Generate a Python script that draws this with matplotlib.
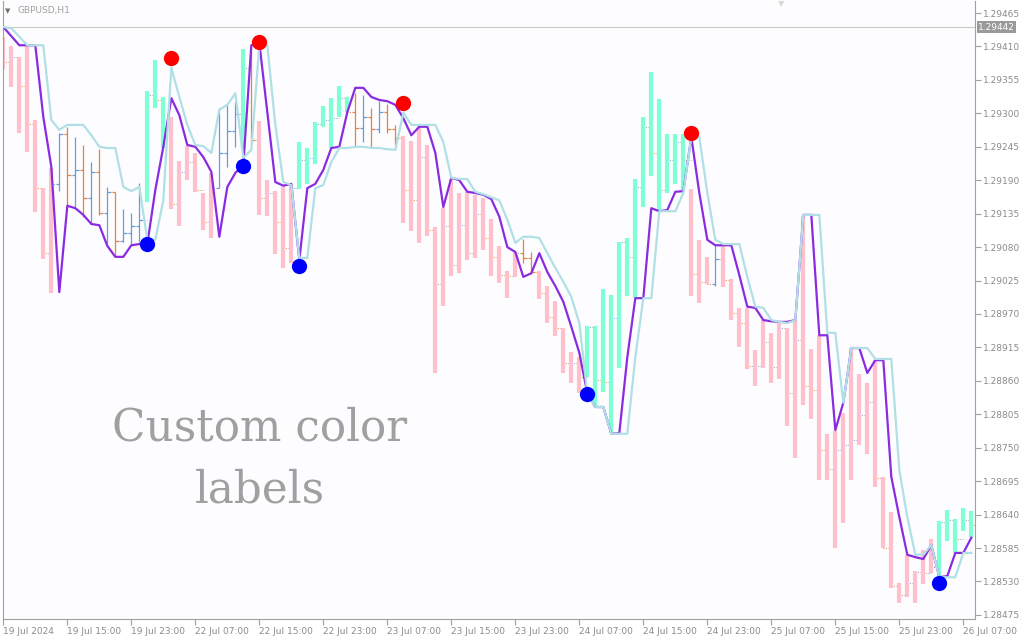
import numpy as np
import matplotlib.pyplot as plt

# GBPUSD H1 bars, 19 Jul 07:00 .. 26 Jul 08:00 (122 bars)
highs = [1.29426, 1.29411, 1.29393, 1.29412, 1.29289, 1.29177, 1.29210, 1.29268, 1.29278, 1.29261,
         1.29248, 1.29220, 1.29241, 1.29179, 1.29171, 1.29143, 1.29136, 1.29185, 1.29337, 1.29388,
         1.29327, 1.29294, 1.29222, 1.29246, 1.29235, 1.29169, 1.29202, 1.29309, 1.29314, 1.29319,
         1.29406, 1.29409, 1.29287, 1.29190, 1.29172, 1.29179, 1.29184, 1.29253, 1.29243, 1.29286,
         1.29312, 1.29325, 1.29345, 1.29327, 1.29333, 1.29330, 1.29309, 1.29320, 1.29315, 1.29281,
         1.29263, 1.29254, 1.29281, 1.29248, 1.29113, 1.29144, 1.29192, 1.29169, 1.29171, 1.29166,
         1.29161, 1.29126, 1.29082, 1.29041, 1.29072, 1.29093, 1.29072, 1.29041, 1.29016, 1.28991,
         1.28947, 1.28908, 1.28899, 1.28950, 1.28950, 1.29011, 1.29001, 1.29088, 1.29095, 1.29192,
         1.29294, 1.29368, 1.29324, 1.29266, 1.29266, 1.29266, 1.29176, 1.29092, 1.29064, 1.29083,
         1.29083, 1.29028, 1.28980, 1.28980, 1.28911, 1.28960, 1.28939, 1.28955, 1.28947, 1.28960,
         1.29131, 1.28912, 1.28935, 1.28773, 1.28778, 1.28807, 1.28914, 1.28871, 1.28857, 1.28894,
         1.28702, 1.28644, 1.28528, 1.28574, 1.28547, 1.28582, 1.28600, 1.28630, 1.28648, 1.28633,
         1.28651, 1.28646]
lows = [1.29373, 1.29343, 1.29268, 1.29236, 1.29138, 1.29060, 1.29005, 1.29172, 1.29149, 1.29146,
        1.29130, 1.29120, 1.29133, 1.29087, 1.29064, 1.29088, 1.29085, 1.29088, 1.29154, 1.29309,
        1.29243, 1.29143, 1.29115, 1.29190, 1.29171, 1.29108, 1.29095, 1.29177, 1.29212, 1.29245,
        1.29243, 1.29253, 1.29133, 1.29131, 1.29069, 1.29046, 1.29054, 1.29176, 1.29184, 1.29217,
        1.29278, 1.29243, 1.29294, 1.29302, 1.29245, 1.29253, 1.29245, 1.29268, 1.29268, 1.29248,
        1.29120, 1.29107, 1.29087, 1.29098, 1.28873, 1.28983, 1.29032, 1.29037, 1.29059, 1.29062,
        1.29075, 1.29032, 1.29021, 1.28996, 1.29031, 1.29054, 1.29037, 1.28995, 1.28955, 1.28934,
        1.28873, 1.28857, 1.28840, 1.28866, 1.28817, 1.28842, 1.28774, 1.28881, 1.29000, 1.28996,
        1.29146, 1.29197, 1.29139, 1.29169, 1.29184, 1.29174, 1.29000, 1.28988, 1.29019, 1.29016,
        1.29014, 1.28960, 1.28916, 1.28880, 1.28852, 1.28881, 1.28857, 1.28863, 1.28786, 1.28733,
        1.28820, 1.28797, 1.28697, 1.28697, 1.28585, 1.28626, 1.28697, 1.28755, 1.28740, 1.28685,
        1.28585, 1.28519, 1.28495, 1.28505, 1.28495, 1.28526, 1.28544, 1.28539, 1.28597, 1.28577,
        1.28613, 1.28603]
opens = [1.29421, 1.29384, 1.29393, 1.29345, 1.29282, 1.29177, 1.29070, 1.29184, 1.29266, 1.29199,
         1.29207, 1.29161, 1.29204, 1.29136, 1.29171, 1.29090, 1.29103, 1.29115, 1.29125, 1.29330,
         1.29322, 1.29279, 1.29151, 1.29204, 1.29220, 1.29174, 1.29121, 1.29177, 1.29235, 1.29271,
         1.29299, 1.29375, 1.29256, 1.29161, 1.29169, 1.29121, 1.29079, 1.29177, 1.29223, 1.29227,
         1.29282, 1.29289, 1.29292, 1.29325, 1.29302, 1.29276, 1.29294, 1.29274, 1.29302, 1.29274,
         1.29259, 1.29174, 1.29157, 1.29228, 1.29108, 1.29019, 1.29115, 1.29051, 1.29116, 1.29070,
         1.29134, 1.29095, 1.29064, 1.29034, 1.29032, 1.29070, 1.29062, 1.29039, 1.29005, 1.28965,
         1.28947, 1.28889, 1.28889, 1.28866, 1.28949, 1.28861, 1.28858, 1.28963, 1.29088, 1.29064,
         1.29179, 1.29278, 1.29235, 1.29174, 1.29223, 1.29253, 1.29223, 1.29036, 1.29023, 1.29019,
         1.29060, 1.29026, 1.28972, 1.28955, 1.28884, 1.28884, 1.28924, 1.28883, 1.28947, 1.28840,
         1.28927, 1.28852, 1.28845, 1.28746, 1.28715, 1.28746, 1.28755, 1.28763, 1.28804, 1.28825,
         1.28700, 1.28585, 1.28523, 1.28508, 1.28528, 1.28546, 1.28544, 1.28554, 1.28628, 1.28631,
         1.28600, 1.28631]
closes = [1.29384, 1.29393, 1.29345, 1.29282, 1.29177, 1.29070, 1.29184, 1.29266, 1.29199, 1.29207,
          1.29161, 1.29204, 1.29136, 1.29171, 1.29090, 1.29103, 1.29115, 1.29125, 1.29330, 1.29322,
          1.29279, 1.29151, 1.29204, 1.29220, 1.29174, 1.29121, 1.29177, 1.29235, 1.29271, 1.29299,
          1.29375, 1.29256, 1.29161, 1.29169, 1.29121, 1.29079, 1.29177, 1.29223, 1.29227, 1.29282,
          1.29289, 1.29292, 1.29325, 1.29302, 1.29276, 1.29294, 1.29274, 1.29302, 1.29274, 1.29259,
          1.29174, 1.29157, 1.29228, 1.29108, 1.29019, 1.29115, 1.29051, 1.29116, 1.29070, 1.29134,
          1.29095, 1.29064, 1.29034, 1.29032, 1.29070, 1.29062, 1.29039, 1.29005, 1.28965, 1.28947,
          1.28889, 1.28889, 1.28866, 1.28949, 1.28861, 1.28858, 1.28963, 1.29088, 1.29064, 1.29179,
          1.29278, 1.29235, 1.29174, 1.29223, 1.29253, 1.29223, 1.29036, 1.29023, 1.29019, 1.29060,
          1.29026, 1.28972, 1.28955, 1.28884, 1.28884, 1.28924, 1.28883, 1.28947, 1.28840, 1.28927,
          1.28852, 1.28845, 1.28746, 1.28715, 1.28746, 1.28755, 1.28763, 1.28804, 1.28825, 1.28700,
          1.28585, 1.28523, 1.28508, 1.28528, 1.28546, 1.28544, 1.28554, 1.28628, 1.28631, 1.28600,
          1.28631, 1.28623]
# P = bearish highlight, A = bullish highlight, U / D = plain up / down bar
bar_state = list("PPPPPPP" "UDUDUDUDUUU" "AAA" "PPPPPP" "UUU" "A" "D" "PPPPP" "AAAAAAA"
                 "DUDUDD" "PPPPPPPPPPPPPPP" "DD" "PPPPPP" "AAAAAAAAAAAAA" "PPP" "U"
                 "PPPPPPPPPPPPPPPPPPPPPPPPPPP" "AAAAA")

fast_line = [1.29442, 1.29427, 1.29412, 1.29412, 1.29412, 1.29294, 1.29212, 1.29006, 1.29148, 1.29144,
             1.29133, 1.29118, 1.29116, 1.29082, 1.29064, 1.29064, 1.29083, 1.29085, 1.29085, 1.29174,
             1.29245, 1.29325, 1.29297, 1.29248, 1.29245, 1.29228, 1.29204, 1.29097, 1.29179, 1.29202,
             1.29215, 1.29412, 1.29416, 1.29302, 1.29187, 1.29181, 1.29184, 1.29059, 1.29177, 1.29184,
             1.29207, 1.29243, 1.29245, 1.29302, 1.29342, 1.29342, 1.29327, 1.29322, 1.29320, 1.29314,
             1.29292, 1.29264, 1.29278, 1.29278, 1.29235, 1.29146, 1.29194, 1.29190, 1.29171, 1.29169,
             1.29166, 1.29159, 1.29130, 1.29080, 1.29072, 1.29031, 1.29037, 1.29070, 1.29039, 1.29016,
             1.28990, 1.28949, 1.28906, 1.28840, 1.28817, 1.28817, 1.28773, 1.28774, 1.28899, 1.28996,
             1.28996, 1.29144, 1.29139, 1.29141, 1.29171, 1.29172, 1.29261, 1.29169, 1.29092, 1.29083,
             1.29083, 1.29083, 1.29034, 1.28982, 1.28980, 1.28960, 1.28958, 1.28957, 1.28957, 1.28960,
             1.29133, 1.29133, 1.28935, 1.28935, 1.28779, 1.28824, 1.28914, 1.28914, 1.28873, 1.28894,
             1.28894, 1.28702, 1.28636, 1.28574, 1.28570, 1.28567, 1.28590, 1.28537, 1.28539, 1.28577,
             1.28577, 1.28602]
slow_line = [1.29442, 1.29440, 1.29426, 1.29412, 1.29412, 1.29412, 1.29289, 1.29273, 1.29281, 1.29281,
             1.29281, 1.29264, 1.29245, 1.29243, 1.29243, 1.29179, 1.29172, 1.29179, 1.29092, 1.29092,
             1.29157, 1.29375, 1.29327, 1.29281, 1.29248, 1.29246, 1.29235, 1.29306, 1.29314, 1.29333,
             1.29227, 1.29240, 1.29412, 1.29412, 1.29281, 1.29187, 1.29182, 1.29062, 1.29062, 1.29177,
             1.29182, 1.29220, 1.29243, 1.29243, 1.29245, 1.29245, 1.29243, 1.29243, 1.29241, 1.29240,
             1.29301, 1.29281, 1.29281, 1.29281, 1.29281, 1.29253, 1.29194, 1.29192, 1.29192, 1.29171,
             1.29167, 1.29162, 1.29157, 1.29125, 1.29087, 1.29097, 1.29097, 1.29095, 1.29070, 1.29046,
             1.29023, 1.28998, 1.28955, 1.28840, 1.28817, 1.28817, 1.28773, 1.28773, 1.28773, 1.28899,
             1.28996, 1.28996, 1.29139, 1.29139, 1.29139, 1.29169, 1.29261, 1.29261, 1.29169, 1.29092,
             1.29085, 1.29085, 1.29085, 1.29031, 1.28982, 1.28980, 1.28960, 1.28957, 1.28955, 1.28960,
             1.29133, 1.29133, 1.29133, 1.28939, 1.28939, 1.28824, 1.28914, 1.28914, 1.28914, 1.28896,
             1.28896, 1.28896, 1.28713, 1.28636, 1.28574, 1.28574, 1.28590, 1.28537, 1.28537, 1.28537,
             1.28577, 1.28577]

top_idx = [21, 32, 50, 86]
top_val = [1.29391, 1.29417, 1.29317, 1.29268]
bottom_idx = [18, 30, 37, 73, 117]
bottom_val = [1.29085, 1.29213, 1.29049, 1.28838, 1.28528]

price_ticks = [1.29465, 1.29410, 1.29355, 1.29300, 1.29245, 1.29190, 1.29135, 1.29080, 1.29025,
               1.28970, 1.28915, 1.28860, 1.28805, 1.28750, 1.28695, 1.28640, 1.28585, 1.28530, 1.28475]
time_labels = ['19 Jul 2024', '19 Jul 15:00', '19 Jul 23:00', '22 Jul 07:00', '22 Jul 15:00',
               '22 Jul 23:00', '23 Jul 07:00', '23 Jul 15:00', '23 Jul 23:00', '24 Jul 07:00',
               '24 Jul 15:00', '24 Jul 23:00', '25 Jul 07:00', '25 Jul 15:00', '25 Jul 23:00',
               '26 Jul 07:00']
last_price = 1.29442

grey = '#8c8c8c'
fig = plt.figure(figsize=(10.24, 6.4), dpi=100)
fig.patch.set_facecolor('white')
ax = fig.add_axes([3 / 1024, 21 / 640, 972 / 1024, 618 / 640])
ax.set_facecolor('#fdfdff')

x = np.arange(len(highs))
highs, lows = np.array(highs), np.array(lows)
opens, closes = np.array(opens), np.array(closes)
state = np.array(bar_state)
plain = (state == 'U') | (state == 'D')

# plain OHLC bars with open / close ticks
tick_col = np.where(closes >= opens, '#6a9ad8', '#e0843e')
for m, ls, lw in ((plain, '-', 0.9), (~plain, (0, (1, 1.5)), 0.7)):
    ax.hlines(opens[m], x[m] - 0.42, x[m], colors=tick_col[m], lw=lw, ls=ls, zorder=1)
    ax.hlines(closes[m], x[m], x[m] + 0.42, colors=tick_col[m], lw=lw, ls=ls, zorder=1)
ax.vlines(x[plain], lows[plain], highs[plain],
          colors=np.where(state[plain] == 'U', '#6a9ad8', '#e0843e'), lw=0.9, zorder=1)

# highlighted trend bars
for s, col in (('P', '#ffc0cb'), ('A', '#7fffd4')):
    m = state == s
    ax.vlines(x[m], lows[m], highs[m], colors=col, lw=3.0, capstyle='butt', zorder=2)

ax.plot(x, fast_line, color='#8a2be2', lw=1.6, zorder=3)
ax.plot(x, slow_line, color='#b0e0e6', lw=1.6, zorder=4)

ax.plot(top_idx, top_val, 'o', color='#ff0000', ms=11, mec='none', zorder=5)
ax.plot(bottom_idx, bottom_val, 'o', color='#0000ff', ms=11, mec='none', zorder=5)

ax.axhline(last_price, color='#c8c8c8', lw=0.8, zorder=0)

ax.set_xlim(-0.04, 121.46)
ax.set_ylim(1.284683, 1.294848)

ax.yaxis.tick_right()
ax.set_yticks(price_ticks)
ax.set_yticklabels([f'{v:.5f}' for v in price_ticks])
ax.set_xticks(np.arange(0, 121, 8))
ax.set_xticklabels(time_labels, ha='left')
ax.tick_params(axis='both', colors='#a0a0a0', labelcolor=grey, labelsize=6.5, length=4, width=0.8)
ax.tick_params(axis='x', pad=2)
ax.tick_params(axis='y', pad=2)
for side in ('left', 'right', 'bottom'):
    ax.spines[side].set_color('#a0a0a0')
ax.spines['top'].set_visible(False)

ax.text(1.003, last_price, '1.29442', transform=ax.get_yaxis_transform(), fontsize=6.5,
        color='white', va='center', ha='left',
        bbox=dict(boxstyle='square,pad=0.15', fc='#9a9a9a', ec='none'))

fig.text(5 / 1024, 1 - 11 / 640, '\u25bc', fontsize=5, color='#707070', va='center')
fig.text(17 / 1024, 1 - 11 / 640, 'GBPUSD,H1', fontsize=6.5, color='#a0a0a0', va='center')
fig.text(781 / 1024, 1 - 4 / 640, '\u25bc', fontsize=6, color='#d8d8d8', va='center', ha='center')

fig.text(260 / 1024, 1 - 428 / 640, 'Custom color', fontsize=31.5, family='DejaVu Serif',
         color='#a0a0a0', ha='center', va='center')
fig.text(260 / 1024, 1 - 490 / 640, 'labels', fontsize=31.5, family='DejaVu Serif',
         color='#a0a0a0', ha='center', va='center')

fig.savefig('out.png', dpi=100)
